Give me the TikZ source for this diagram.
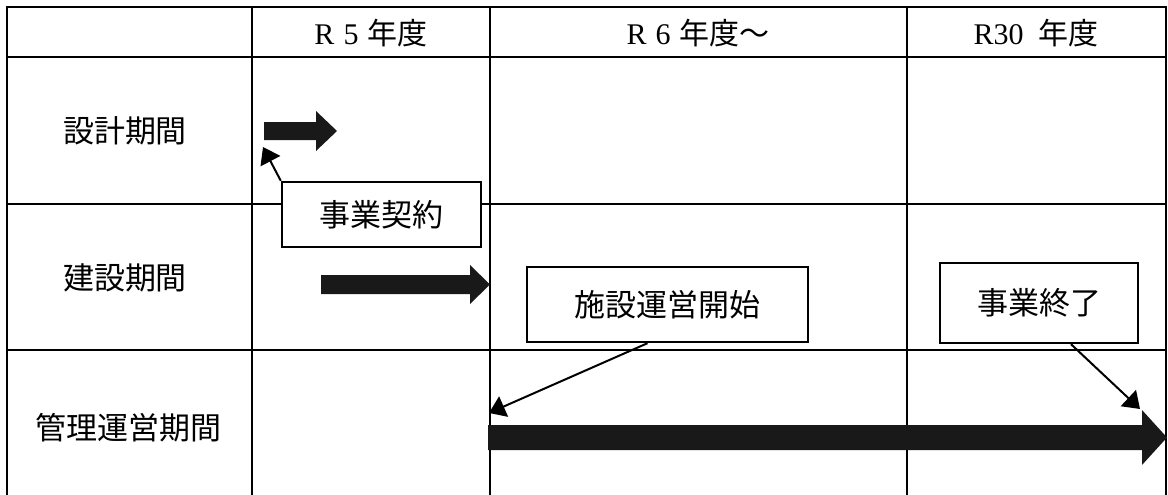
\documentclass[tikz,border=0pt]{standalone}
\usepackage{fontspec}
\setmainfont{Liberation Serif}
\newfontfamily\jp{Noto Sans CJK JP}
\usetikzlibrary{arrows.meta}
\tikzset{
	grid line/.style={line width=2.4pt},
	head text/.style={font=\fontsize{30}{30}\selectfont, inner sep=0pt},
	label text/.style={font=\jp\fontsize{31}{31}\selectfont, inner sep=0pt},
	note box/.style={draw, line width=2.4pt, fill=white, inner sep=0pt, font=\jp\fontsize{31}{31}\selectfont},
	band/.style={fill=black!90},
	pointer/.style={line width=2pt, -{Triangle[length=16pt,width=22pt]}},
}
\begin{document}
\begin{tikzpicture}[x=1pt,y=-1pt]
	\useasboundingbox (0,0) rectangle (1168,495);
	% table
	\draw[grid line] (7,495) -- (7,7) -- (1166,7) -- (1166,495);
	\foreach \x in {252,490,907} \draw[grid line] (\x,7) -- (\x,495);
	\foreach \y in {57,204,350} \draw[grid line] (7,\y) -- (1166,\y);
	% header
	\node[head text] (hdrFive) at (371,33) {R\hspace{0.3em}5\hspace{0.3em}{\jp 年度}};
	\node[head text] (hdrSix) at (698,33) {R\hspace{0.3em}6\hspace{0.3em}{\jp 年度～}};
	\node[head text] (hdrThirty) at (1036,33) {R30\hspace{0.5em}{\jp 年度}};
	% rows
	\node[label text] (rowDesign) at (125,131) {設計期間};
	\node[label text] (rowBuild) at (125,278) {建設期間};
	\node[label text] (rowManage) at (128,428) {管理運営期間};
	% periods
	\fill[band] (264,122) -- (316,122) -- (316,111) -- (337,131) -- (316,151) -- (316,140) -- (264,140) -- cycle;
	\fill[band] (321,275) -- (470,275) -- (470,265) -- (490,284.5) -- (470,304) -- (470,294) -- (321,294) -- cycle;
	\fill[band] (488,425) -- (1142,425) -- (1142,410) -- (1167,437.5) -- (1142,465) -- (1142,450) -- (488,450) -- cycle;
	% notes
	\node[note box, minimum width=199pt, minimum height=65pt] (contract) at (381.5,214.5) {事業契約};
	\node[note box, minimum width=281pt, minimum height=75pt] (opening) at (667.5,304.5) {施設運営開始};
	\node[note box, minimum width=198pt, minimum height=80pt] (ending) at (1039,303) {事業終了};
	\coordinate (designStart) at (263,147);
	\coordinate (manageStart) at (489,413);
	\coordinate (manageEnd) at (1140,409);
	\draw[pointer] (contract.north west) -- (designStart);
	\draw[pointer] ([xshift=-20pt]opening.south) -- (manageStart);
	\draw[pointer] ([xshift=32pt]ending.south) -- (manageEnd);
\end{tikzpicture}
\end{document}
